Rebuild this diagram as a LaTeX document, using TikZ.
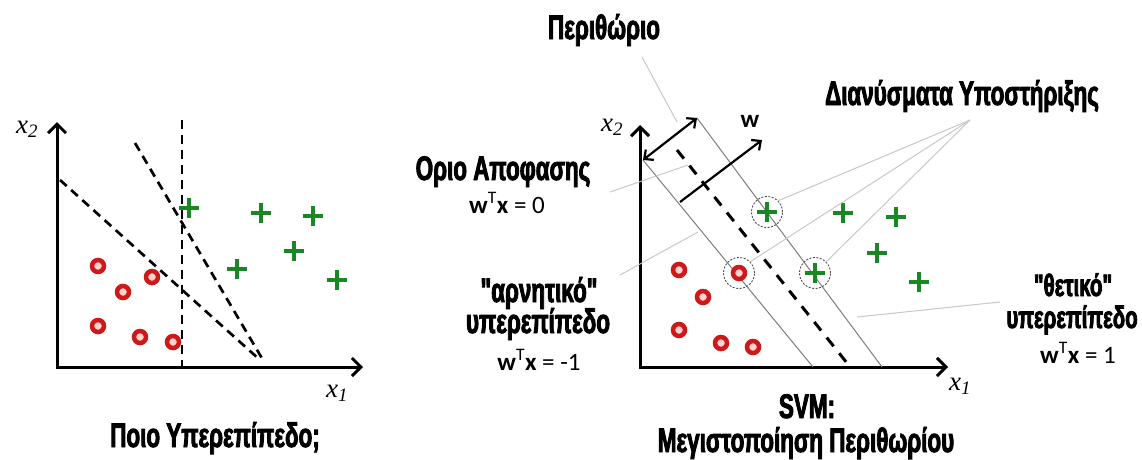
\documentclass[tikz,border=0pt]{standalone}
\usepackage{fontspec}
\setmainfont{Carlito}
\newfontfamily\condf{Liberation Sans}[FakeStretch=0.66,FakeBold=2.5]
\newfontfamily\axf{Liberation Serif}
\usetikzlibrary{arrows.meta}
\definecolor{ptred}{RGB}{205,25,25}
\definecolor{ptpink}{RGB}{255,210,210}
\definecolor{ptgreen}{RGB}{25,135,35}
\definecolor{leadc}{RGB}{200,200,200}
\definecolor{mline}{RGB}{125,125,125}
\tikzset{
  lab/.style={font=\condf\bfseries\fontsize{34}{36}\selectfont, inner sep=0pt, anchor=base},
  labs/.style={font=\condf\bfseries\fontsize{31}{33}\selectfont, inner sep=0pt, anchor=base},
  eqn/.style={font=\fontsize{25}{28}\selectfont, inner sep=0pt, anchor=base},
  axlab/.style={font=\axf\itshape\fontsize{27}{29}\selectfont, inner sep=0pt},
  axes/.style={line width=3pt, line join=miter, {Straight Barb[length=9pt,width=18pt]}-{Straight Barb[length=9pt,width=18pt]}},
  ldash/.style={line width=2.7pt, dash pattern=on 9pt off 6pt},
  cdash/.style={line width=3pt, dash pattern=on 11pt off 9pt},
  marg/.style={line width=1pt, mline},
  leader/.style={line width=1pt, leadc},
  harrow/.style={line width=2.2pt, -{Straight Barb[length=7pt,width=13pt]}},
  redpt/.style={circle, minimum size=12pt, inner sep=0pt, draw=ptred, line width=4.5pt, fill=ptpink},
  grnpt/.style={rectangle, minimum size=20pt, inner sep=0pt,
    path picture={\draw[ptgreen, line width=4pt]
      (path picture bounding box.west) -- (path picture bounding box.east)
      (path picture bounding box.north) -- (path picture bounding box.south);}},
  svc/.style={circle, minimum size=31pt, inner sep=0pt, draw=black!70, line width=0.9pt, dash pattern=on 2pt off 1.5pt}
}
\begin{document}
\begin{tikzpicture}[x=1pt,y=-1pt]
\useasboundingbox[fill=white] (0,0) rectangle (1142,459);

%%% LEFT PANEL
\coordinate (Ya) at (57,122);
\coordinate (Xa) at (363,367);
\draw[axes] (Ya) |- (Xa);
\node[axlab] (x2a) at (27,129) {x\textsubscript{2}};
\node[axlab] (x1a) at (337,393) {x\textsubscript{1}};

\coordinate (a1) at (182,120); \coordinate (a2) at (182,367);
\coordinate (b1) at (135,143); \coordinate (b2) at (263,360);
\coordinate (c1) at (60,180);  \coordinate (c2) at (260,360);
\draw[ldash] (a1) -- (a2);
\draw[ldash] (b1) -- (b2);
\draw[ldash] (c1) -- (c2);

\node[redpt] (r1) at (98,266) {};
\node[redpt] (r2) at (152,277) {};
\node[redpt] (r3) at (123,292) {};
\node[redpt] (r4) at (98,326) {};
\node[redpt] (r5) at (140,337) {};
\node[redpt] (r6) at (173,342) {};
\node[grnpt] (g1) at (189,208) {};
\node[grnpt] (g2) at (261,213) {};
\node[grnpt] (g3) at (313,216) {};
\node[grnpt] (g4) at (294,251) {};
\node[grnpt] (g5) at (237,269) {};
\node[grnpt] (g6) at (337,280) {};

\node[lab] (t1) at (215,447) {Ποιο Υπερεπίπεδο;};

%%% RIGHT PANEL
\coordinate (Yb) at (640,125);
\coordinate (Xb) at (948,367);
\draw[axes] (Yb) |- (Xb);
\node[axlab] (x2b) at (612,127) {x\textsubscript{2}};
\node[axlab] (x1b) at (960,386) {x\textsubscript{1}};

\coordinate (m1a) at (643,160); \coordinate (m1b) at (813,367);
\coordinate (d1a) at (677,150); \coordinate (d1b) at (847,363);
\coordinate (m2a) at (697,118); \coordinate (m2b) at (882,367);
\draw[marg] (m1a) -- (m1b);
\draw[marg] (m2a) -- (m2b);
\draw[cdash] (d1a) -- (d1b);

% margin double arrow and w
\draw[harrow, {Straight Barb[length=7pt,width=13pt]}-{Straight Barb[length=7pt,width=13pt]}] (m1a) -- (m2a);
\coordinate (wa) at (680,202); \coordinate (wb) at (762,140);
\draw[harrow] (wa) -- (wb);
\node[font=\bfseries\fontsize{25}{27}\selectfont, inner sep=0pt] (wl) at (750,121) {w};

% points
\node[redpt] (s1) at (679,270) {};
\node[redpt] (s2) at (739,273) {};
\node[redpt] (s3) at (703,297) {};
\node[redpt] (s4) at (679,330) {};
\node[redpt] (s5) at (721,343) {};
\node[redpt] (s6) at (753,347) {};
\node[grnpt] (h1) at (767,212) {};
\node[grnpt] (h2) at (843,213) {};
\node[grnpt] (h3) at (896,217) {};
\node[grnpt] (h4) at (877,253) {};
\node[grnpt] (h5) at (815,273) {};
\node[grnpt] (h6) at (919,282) {};
\node[svc] (sv1) at (h1) {};
\node[svc] (sv2) at (s2) {};
\node[svc] (sv3) at (h5) {};

% labels
\node[lab] (tP) at (604,39) {Περιθώριο};
\node[lab] (tD) at (962,105) {Διανύσματα Υποστήριξης};
\node[lab] (tO) at (503,180) {Οριο Αποφασης};
\node[eqn] (e0) at (507,213) {\textbf{w}\textsuperscript{T}\textbf{x} = 0};
\node[lab] (tA) at (539,302) {"αρνητικό"};
\node[lab] (tU1) at (538,333) {υπερεπίπεδο};
\node[eqn] (e1) at (539,370) {\textbf{w}\textsuperscript{T}\textbf{x} = -1};
\node[labs] (tT) at (1073,296) {"θετικό"};
\node[labs] (tU2) at (1072,328) {υπερεπίπεδο};
\node[eqn] (e2) at (1078,363) {\textbf{w}\textsuperscript{T}\textbf{x} = 1};
\node[lab] (tS) at (807,418) {SVM:};
\node[lab] (tM) at (806,452) {Μεγιστοποίηση Περιθωρίου};

% leader lines
\coordinate (lP1) at (642,57);  \coordinate (lP2) at (677,122);
\coordinate (lO1) at (610,192); \coordinate (lO2) at (688,165);
\coordinate (lA1) at (620,275); \coordinate (lA2) at (698,232);
\coordinate (lD) at (970,120);
\coordinate (lT1) at (1000,302); \coordinate (lT2) at (857,317);
\draw[leader] (lP1) -- (lP2);
\draw[leader] (lO1) -- (lO2);
\draw[leader] (lA1) -- (lA2);
\draw[leader] (lD) -- (sv1.north east);
\draw[leader] (lD) -- (sv2.north east);
\draw[leader] (lD) -- (sv3.north east);
\draw[leader] (lT1) -- (lT2);
\end{tikzpicture}
\end{document}
